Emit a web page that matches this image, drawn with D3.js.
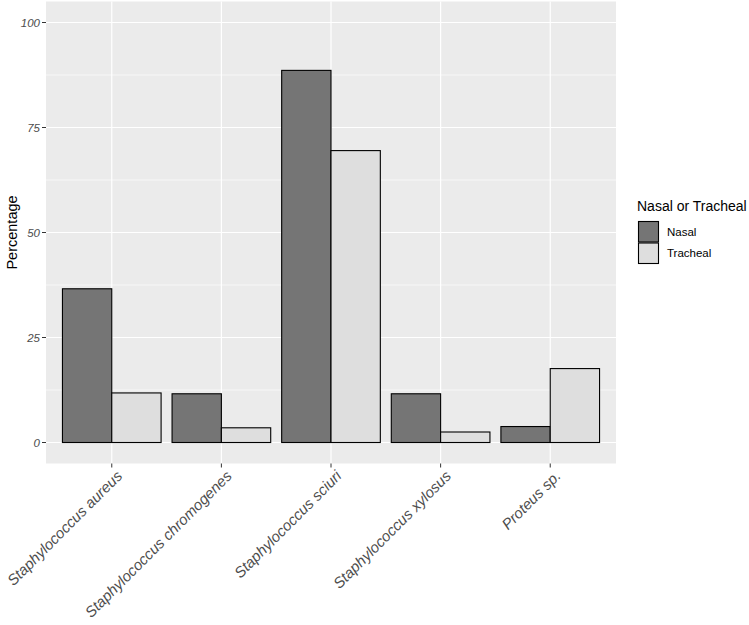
<!DOCTYPE html>
<html>
<head>
<meta charset="utf-8">
<script src="https://cdn.jsdelivr.net/npm/d3@7"></script>
<style>
  body { margin: 0; background: #fff; }
  svg { font-family: "Liberation Sans", Arial, sans-serif; }
</style>
</head>
<body>
<svg id="chart" width="749" height="625"></svg>
<script>
const categories = ['Staphylococcus aureus', 'Staphylococcus chromogenes', 'Staphylococcus sciuri', 'Staphylococcus xylosus', 'Proteus sp.'];
const groups = ['Nasal', 'Tracheal'];
const nasal = [36.6, 11.6, 88.6, 11.6, 3.8];
const tracheal = [11.8, 3.5, 69.5, 2.5, 17.6];
const yTicks = [0, 25, 50, 75, 100];
const colors = ['#757575', '#dedede'];

const svg = d3.select('#chart');
const panel = { left: 46, right: 616, top: 1.5, bottom: 463.5 };

// y: 0..100 with 5% expansion
const y = d3.scaleLinear().domain([-5, 105]).range([panel.bottom, panel.top]);
// x: discrete, 0.6 expansion each side
const xPos = d3.scaleLinear().domain([0.4, categories.length + 0.6]).range([panel.left, panel.right]);
const xc = i => xPos(i + 1);
const unit = xPos(1) - xPos(0);

const g = svg.append('g');

// panel background
g.append('rect')
    .attr('x', panel.left).attr('y', panel.top)
    .attr('width', panel.right - panel.left).attr('height', panel.bottom - panel.top)
    .attr('fill', '#ebebeb');

// minor gridlines
const minor = [12.5, 37.5, 62.5, 87.5];
g.selectAll('line.minor').data(minor).enter().append('line')
    .attr('x1', panel.left).attr('x2', panel.right)
    .attr('y1', d => y(d)).attr('y2', d => y(d))
    .attr('stroke', '#fff').attr('stroke-width', 0.6);

// major gridlines
g.selectAll('line.majorY').data(yTicks).enter().append('line')
    .attr('x1', panel.left).attr('x2', panel.right)
    .attr('y1', d => y(d)).attr('y2', d => y(d))
    .attr('stroke', '#fff').attr('stroke-width', 1.2);

g.selectAll('line.majorX').data(categories).enter().append('line')
    .attr('x1', (d, i) => xc(i)).attr('x2', (d, i) => xc(i))
    .attr('y1', panel.top).attr('y2', panel.bottom)
    .attr('stroke', '#fff').attr('stroke-width', 1.2);

// bars
const barW = unit * 0.45;
const series = [nasal, tracheal];
series.forEach((vals, s) => {
    g.selectAll('rect.bar' + s).data(vals).enter().append('rect')
        .attr('x', (d, i) => xc(i) - barW + s * barW)
        .attr('y', d => y(d))
        .attr('width', barW)
        .attr('height', d => y(0) - y(d))
        .attr('fill', colors[s])
        .attr('stroke', '#000')
        .attr('stroke-width', 1.1);
});

// y axis ticks + labels
g.selectAll('line.ytick').data(yTicks).enter().append('line')
    .attr('x1', panel.left - 4).attr('x2', panel.left)
    .attr('y1', d => y(d)).attr('y2', d => y(d))
    .attr('stroke', '#333').attr('stroke-width', 1);

g.selectAll('text.ylab').data(yTicks).enter().append('text')
    .attr('x', panel.left - 6).attr('y', d => y(d))
    .attr('dy', '0.35em')
    .attr('text-anchor', 'end')
    .attr('font-size', 11.5)
    .attr('font-style', 'italic')
    .attr('fill', '#4d4d4d')
    .text(d => d);

// x axis ticks + labels
g.selectAll('line.xtick').data(categories).enter().append('line')
    .attr('x1', (d, i) => xc(i)).attr('x2', (d, i) => xc(i))
    .attr('y1', panel.bottom).attr('y2', panel.bottom + 4)
    .attr('stroke', '#333').attr('stroke-width', 1);

g.selectAll('text.xlab').data(categories).enter().append('text')
    .attr('transform', (d, i) => `translate(${xc(i) + 4},${panel.bottom + 6}) rotate(-45)`)
    .attr('text-anchor', 'end')
    .attr('dy', '0.7em')
    .attr('font-size', 15)
    .attr('font-style', 'italic')
    .attr('fill', '#4d4d4d')
    .text(d => d);

// y title
svg.append('text')
    .attr('transform', `translate(17,${(panel.top + panel.bottom) / 2}) rotate(-90)`)
    .attr('text-anchor', 'middle')
    .attr('font-size', 14.5)
    .attr('fill', '#000')
    .text('Percentage');

// legend
const lg = svg.append('g').attr('transform', 'translate(637,0)');
lg.append('text')
    .attr('x', 0).attr('y', 211)
    .attr('font-size', 14)
    .attr('fill', '#000')
    .text('Nasal or Tracheal');

const key = d3.scaleBand().domain(groups).range([221, 264]);
lg.selectAll('rect.key').data(groups).enter().append('rect')
    .attr('x', 1.5).attr('y', d => key(d) + 0.5)
    .attr('width', 20).attr('height', key.bandwidth() - 1)
    .attr('fill', (d, i) => colors[i])
    .attr('stroke', '#000').attr('stroke-width', 1.1);

lg.selectAll('text.key').data(groups).enter().append('text')
    .attr('x', 30).attr('y', d => key(d) + key.bandwidth() / 2)
    .attr('dy', '0.35em')
    .attr('font-size', 11.5)
    .attr('fill', '#000')
    .text(d => d);
</script>
</body>
</html>
